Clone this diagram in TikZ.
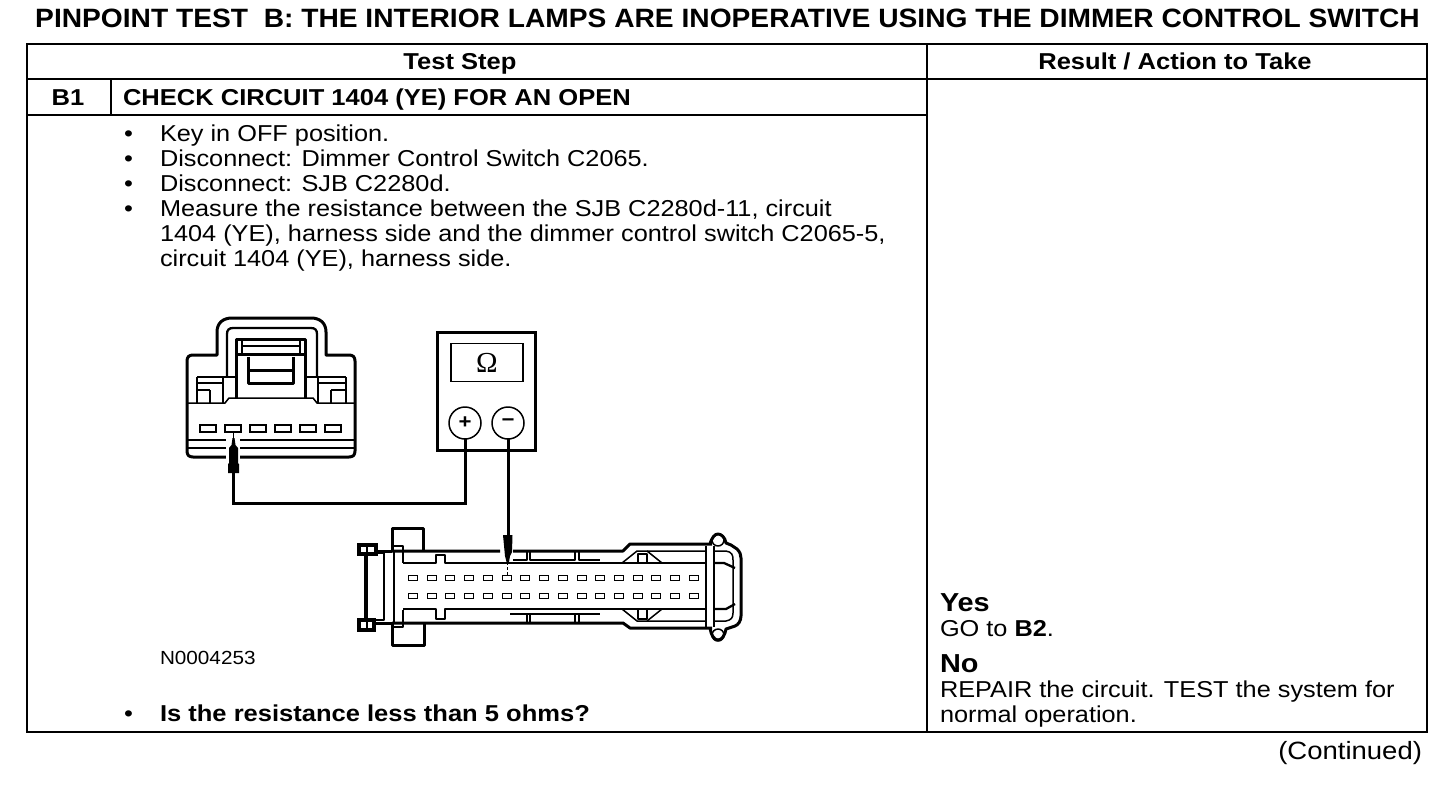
\documentclass[tikz,border=0pt]{standalone}
\usepackage{fontspec}
\setmainfont[FakeStretch=1.11]{Liberation Sans}
\tikzset{
  x=1pt,y=-1pt,
  every node/.style={inner sep=0pt,outer sep=0pt},
  txt/.style={anchor=base west,font=\fontsize{23}{25}\selectfont\addfontfeature{FakeStretch=1.1}},
  boldtxt/.style={anchor=base west,font=\fontsize{23}{25}\selectfont\bfseries},
  head/.style={anchor=base,font=\fontsize{23}{25}\selectfont\bfseries},
  big/.style={anchor=base west,font=\fontsize{26}{28}\selectfont\bfseries},
  rule/.style={line width=2.6pt,line cap=rect},
  thick1/.style={line width=3pt,line join=round},
  mid1/.style={line width=2.3pt,line join=round},
  thin1/.style={line width=1.5pt,line join=round},
  wire/.style={line width=3pt},
  probe/.style={fill=black,draw=none},
  pin/.style={draw,line width=1.3pt,minimum width=9pt,minimum height=5pt},
  bigpin/.style={draw,line width=1.3pt,minimum width=16pt,minimum height=7pt}
}
\begin{document}
\begin{tikzpicture}
\useasboundingbox (0,0) rectangle (1456,788);
\fill[white] (0,0) rectangle (1456,788);
% title
\node[anchor=base,font=\fontsize{26.5}{28}\selectfont\bfseries\addfontfeature{FakeStretch=1.063}] (title) at (727.5,27) {PINPOINT TEST\ \ B: THE INTERIOR LAMPS ARE INOPERATIVE USING THE DIMMER CONTROL SWITCH};
% table
\draw[rule] (27,44) rectangle (1427,732);
\draw[rule] (27,79) -- (1427,79);
\draw[rule] (927,44) -- (927,732);
\draw[rule] (27,115) -- (927,115);
\draw[rule] (111,79) -- (111,115);
\node[head] (h1) at (460,69) {Test Step};
\node[head] (h2) at (1175,69) {Result / Action to Take};
\node[head] (b1) at (68,105) {B1};
\node[boldtxt] (chk) at (123,105) {CHECK CIRCUIT 1404 (YE) FOR AN OPEN};
% bullets
\foreach \n/\yy in {a/141,b/166,c/191,d/216,q/721}{\node[txt] (bul\n) at (124,\yy) {•};}
\node[txt] (t1) at (160,141) {Key in OFF position.};
\node[txt] (t2) at (160,166) {Disconnect: Dimmer Control Switch C2065.};
\node[txt] (t3) at (160,191) {Disconnect: SJB C2280d.};
\node[txt] (t4) at (160,216) {Measure the resistance between the SJB C2280d-11, circuit};
\node[txt] (t5) at (160,241) {1404 (YE), harness side and the dimmer control switch C2065-5,};
\node[txt] (t6) at (160,266) {circuit 1404 (YE), harness side.};
\node[boldtxt] (t7) at (160,721) {Is the resistance less than 5 ohms?};
\node[anchor=base west,font=\fontsize{19}{22}\selectfont\addfontfeature{FakeStretch=1.09}] (fig) at (160,664) {N0004253};
% results
\node[big] (yes) at (940,611) {Yes};
\node[txt] (go) at (940,636) {GO to \textbf{B2}.};
\node[big] (no) at (940,672) {No};
\node[txt] (r1) at (940,697) {REPAIR the circuit. TEST the system for};
\node[txt] (r2) at (940,722) {normal operation.};
\node[anchor=base east,font=\fontsize{25}{28}\selectfont\addfontfeature{FakeStretch=1.1}] (cont) at (1422,759) {(Continued)};
% connector 1
\draw[thick1] (187,361) .. controls (187,357) and (189,355) .. (193,355) -- (217,355) -- (217,332)
  .. controls (217,323) and (223,318) .. (232,318) -- (311,318)
  .. controls (320,318) and (326,323) .. (326,332) -- (326,355) -- (349,355)
  .. controls (353,355) and (355,357) .. (355,361) -- (355,451)
  .. controls (355,455) and (353,457) .. (349,457) -- (193,457)
  .. controls (189,457) and (187,455) .. (187,451) -- cycle;
\draw[mid1] (227,377) -- (227,334) .. controls (227,330) and (229,328) .. (233,328) -- (311,328) .. controls (315,328) and (317,330) .. (317,334) -- (317,377);
\draw[mid1] (197,377) -- (236,377) (305,377) -- (346,377);
\draw[thick1] (236,398) -- (236,339) -- (305,339) -- (305,398);
\draw[thin1] (242,339) -- (242,354) (300,339) -- (300,354);
\draw[thin1] (242,346) -- (300,346);
\draw[thick1] (236,354) -- (305,354);
\draw[thick1] (248,357) -- (248,383) -- (293,383) -- (293,357);
\draw[thick1] (248,370) -- (293,370);
\draw[thin1] (197,403) -- (197,377) (223,403) -- (223,377);
\draw[thin1] (197,383) -- (223,383);
\draw[mid1] (197,390) -- (210,390);
\draw[thin1] (210,390) -- (210,403);
\draw[thin1] (318,403) -- (318,377) (346,403) -- (346,377);
\draw[thin1] (318,383) -- (346,383);
\draw[mid1] (331,390) -- (346,390);
\draw[thin1] (331,390) -- (331,403);
\draw[thin1] (187,403) -- (225,403) -- (229,398) -- (313,398) -- (317,403) -- (355,403);
\foreach \i in {0,...,5}{\node[bigpin] (cp\i) at (208+\i*25,428.5) {};}
\draw[thin1] (187,440) -- (355,440) (187,448) -- (355,448);
% meter
\node[draw,line width=3.4pt,minimum width=98pt,minimum height=118pt] (meter) at (486.5,391.5) {};
\node[draw,line width=1.5pt,minimum width=72pt,minimum height=38pt,font=\fontsize{29}{30}\selectfont] (disp) at (487,362.5) {\fontspec{Liberation Serif}Ω};
\node[draw,circle,line width=1.5pt,minimum size=32pt,font=\fontsize{20}{20}\selectfont\bfseries] (plus) at (465,423) {+};
\node[draw,circle,line width=1.5pt,minimum size=32pt,font=\fontsize{20}{20}\selectfont\bfseries] (minus) at (508,423) {\raisebox{-2.5pt}{−}};
% probes and wires
\coordinate (p1) at (233,472);
\coordinate (p2) at (508,535);
\draw[wire] (plus.south) |- (233,503) -- (p1);
\draw[wire] (minus.south) -- (p2);
\fill[white] (226,437) rectangle (240,472);
\fill[probe] (228,473) -- (239,473) -- (239,464) -- (238,463) -- (238,448) -- (235.5,445) -- (234.5,438) -- (232.5,438) -- (231.5,445) -- (229,448) -- (229,463) -- (228,464) -- cycle;
\draw[thin1] (233.5,438) -- (233.5,432);
% connector 2
\draw[thick1] (392,551) -- (392,528) -- (423,528) -- (423,551);
\draw[thick1] (392,623) -- (392,645) -- (424,645) -- (424,623);
\draw[line width=3.6pt] (359,545) rectangle (376,554);
\draw[line width=3.6pt] (359,620) rectangle (374,630);
\draw[thin1] (367,544) -- (367,554) (367,619) -- (367,630);
\draw[line width=3.4pt] (366,554) -- (366,619);
\draw[thin1] (372,553) -- (384,553) -- (384,620) -- (372,620);
\draw[thick1] (376,551) -- (392,551) (374,623) -- (392,623);
\draw[thick1] (392,551) -- (500,551) (513,551) -- (623,551) -- (630,544) -- (712,544);
\draw[thick1] (392,623) -- (623,623) -- (630,628) -- (712,628);
\draw[thin1] (394,550) -- (394,624);
\draw[thin1] (392,546) -- (403,546) -- (403,563);
\draw[thin1] (392,627) -- (403,627) -- (403,610);
\draw[mid1] (403,563) -- (436,563) -- (436,555) -- (445,555) -- (445,563) -- (705,563);
\draw[mid1] (403,609) -- (436,609) -- (436,619) -- (445,619) -- (445,609) -- (705,609);
\foreach \i in {0,...,15}{
  \pgfmathtruncatemacro{\px}{413+\i*18.73+0.5}
  \node[pin] (pa\i) at (\px,578) {};
  \node[pin] (pb\i) at (\px,596) {};
}
% upper/lower channel details
\draw[thin1] (513,560) -- (527,560) -- (527,551) (530,551) -- (530,560) -- (575,560) -- (575,551) (579,551) -- (579,560) -- (600,560);
\draw[thin1] (510,614) -- (600,614) (527,614) -- (527,623) (530,614) -- (530,623) (575,614) -- (575,623) (579,614) -- (579,623);
\draw[thin1] (622,563) -- (637,551) -- (706,551);
\draw[thin1] (647,551) -- (662,563);
\draw[thin1] (638,563) -- (638,554) -- (647,554) -- (647,563);
\draw[thin1] (622,609) -- (637,621) -- (706,621);
\draw[thin1] (647,621) -- (662,609);
\draw[thin1] (638,609) -- (638,619) -- (647,619) -- (647,609);
% right end
\draw[thin1] (706,546) -- (706,627) (714,546) -- (714,627);
\draw[thin1,fill=white] (718,540) circle (6);
\draw[thin1,fill=white] (718,635) circle (6);
\draw[thick1] (710,544) .. controls (712,537) and (715,534) .. (718,534) .. controls (721,534) and (725,537) .. (726,543) -- (731,545) -- (737,549) .. controls (740,552) and (741,555) .. (741,558) -- (741,616) .. controls (741,621) and (738,625) .. (735,626) -- (726,629) .. controls (725,635) and (722,640) .. (718,640) .. controls (714,640) and (711,635) .. (710,628);
\draw[thin1] (714,551) -- (726,551) .. controls (732,552) and (733,555) .. (733,560) -- (733,613) .. controls (733,618) and (731,620) .. (726,621) -- (714,621);
\draw[mid1] (714,563) -- (724,563) -- (735,568) (714,609) -- (726,609) -- (735,604);
% probe 2
\fill[probe] (503,535) -- (512.5,535) -- (512,552) -- (510,556) -- (509,562) -- (506.5,562) -- (505,556) -- cycle;
\draw[thin1,dash pattern=on 3pt off 2pt] (507.5,562) -- (507.5,575);
\end{tikzpicture}
\end{document}
